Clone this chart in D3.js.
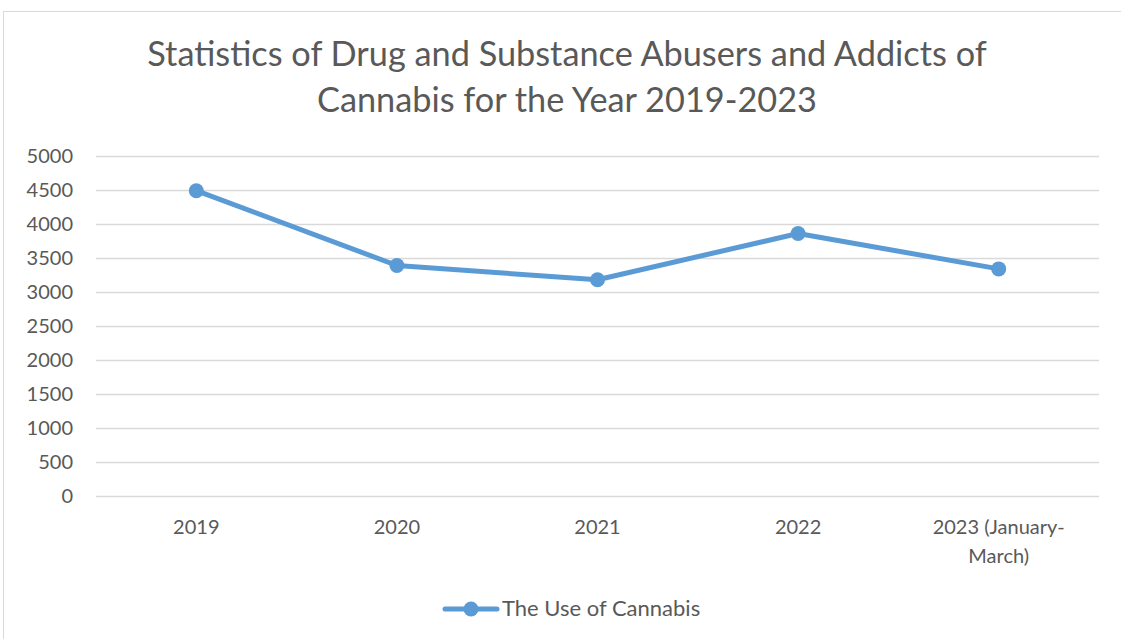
<!DOCTYPE html>
<html>
<head>
<meta charset="utf-8">
<script src="https://cdn.jsdelivr.net/npm/d3@7"></script>
<style>
  body { margin: 0; background: #fff; }
  svg text { font-family: Lato, "Open Sans", sans-serif; fill: #595959; }
</style>
</head>
<body>
<svg width="1121" height="639"></svg>
<script>
var categories = ["2019", "2020", "2021", "2022", "2023 (January-March)"];
var catLines = [["2019"], ["2020"], ["2021"], ["2022"], ["2023 (January-", "March)"]];
var cannabis = [4490, 3390, 3180, 3860, 3340];
var yTicks = [0, 500, 1000, 1500, 2000, 2500, 3000, 3500, 4000, 4500, 5000];
var seriesName = "The Use of Cannabis";
var titleLines = ["Statistics of Drug and Substance Abusers and Addicts of",
                  "Cannabis for the Year 2019-2023"];

var svg = d3.select("svg");
var blue = "#5b9bd5", grid = "#d9d9d9";

// chart area border (right/bottom run off the picture)
svg.append("rect")
  .attr("x", 3.5).attr("y", 11.5).attr("width", 1200).attr("height", 700)
  .attr("fill", "none").attr("stroke", grid).attr("stroke-width", 1);

svg.selectAll(".title").data(titleLines).enter().append("text")
  .attr("x", 567).attr("y", function(d, i) { return 66 + i * 46; })
  .attr("text-anchor", "middle")
  .style("font-size", "34.3px")
  .text(function(d) { return d; });

var x = d3.scaleBand().domain(categories).range([96, 1099]);
var y = d3.scaleLinear().domain([0, 5000]).range([496, 156]);

// gridlines + y axis labels
var yAxis = d3.axisLeft(y).tickValues(yTicks).tickFormat(d3.format("d"))
  .tickSize(-(1099 - 96)).tickPadding(23);
var ga = svg.append("g").attr("transform", "translate(96,0)").call(yAxis);
ga.select(".domain").remove();
ga.selectAll("line").attr("stroke", grid).attr("stroke-width", 1.3);
ga.selectAll("text").style("font-size", "20px").attr("fill", "#595959");

// category labels
var cl = svg.selectAll(".cat").data(categories).enter().append("text")
  .attr("text-anchor", "middle")
  .style("font-size", "20px");
cl.each(function(d, i) {
  var t = d3.select(this);
  catLines[i].forEach(function(s, j) {
    t.append("tspan")
      .attr("x", x(d) + x.bandwidth() / 2)
      .attr("y", 534 + j * 29)
      .text(s);
  });
});

var cx = function(d, i) { return x(categories[i]) + x.bandwidth() / 2; };
var line = d3.line().x(cx).y(function(d) { return y(d); });

svg.append("path").datum(cannabis)
  .attr("d", line)
  .attr("fill", "none").attr("stroke", blue)
  .attr("stroke-width", 5).attr("stroke-linejoin", "round").attr("stroke-linecap", "round");

svg.selectAll(".pt").data(cannabis).enter().append("circle")
  .attr("cx", cx).attr("cy", function(d) { return y(d); })
  .attr("r", 7.5).attr("fill", blue);

// legend
var lg = svg.append("g").attr("transform", "translate(0,609)");
lg.append("line").attr("x1", 445).attr("x2", 497).attr("y1", 0).attr("y2", 0)
  .attr("stroke", blue).attr("stroke-width", 5).attr("stroke-linecap", "round");
lg.append("circle").attr("cx", 471).attr("cy", 0).attr("r", 7.5).attr("fill", blue);
lg.append("text").attr("x", 502).attr("y", 7).style("font-size", "22px").text(seriesName);
</script>
</body>
</html>
